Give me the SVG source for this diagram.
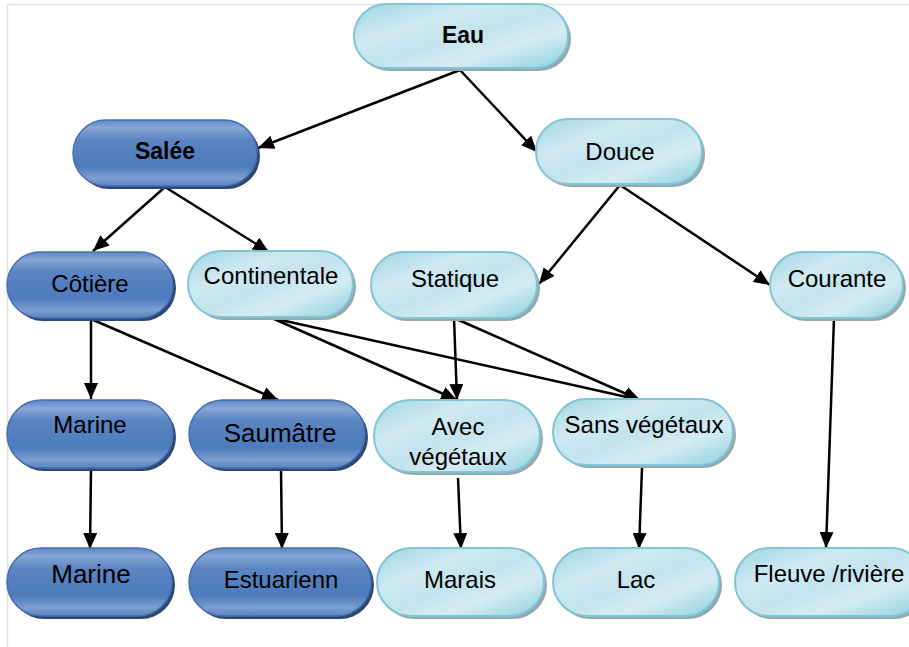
<svg xmlns="http://www.w3.org/2000/svg" width="909" height="647" viewBox="0 0 909 647">
<defs>
  <linearGradient id="gl" x1="0" y1="0" x2="1" y2="1">
    <stop offset="0" stop-color="#9fd6e4"/>
    <stop offset="0.3" stop-color="#cfe9f1"/>
    <stop offset="0.5" stop-color="#c2e3ed"/>
    <stop offset="0.7" stop-color="#d4ecf3"/>
    <stop offset="1" stop-color="#8ccfdf"/>
  </linearGradient>
  <linearGradient id="gd" x1="0" y1="0" x2="0" y2="1">
    <stop offset="0" stop-color="#5f87c4"/>
    <stop offset="0.12" stop-color="#86a6d6"/>
    <stop offset="0.3" stop-color="#5b84c2"/>
    <stop offset="0.7" stop-color="#4d7bbd"/>
    <stop offset="0.88" stop-color="#7c9ed0"/>
    <stop offset="1" stop-color="#5a82c0"/>
  </linearGradient>
  <marker id="ah" viewBox="0 0 16 14" markerWidth="16" markerHeight="14" refX="16" refY="7" orient="auto" markerUnits="userSpaceOnUse">
    <path d="M0,0 L16,7 L0,14 z" fill="#000"/>
  </marker>
</defs>
<style>
  .l { fill: url(#gl); stroke: #7ec5d8; stroke-width: 2; }
  .d { fill: url(#gd); stroke: #4470b0; stroke-width: 1.5; }
  .ls { fill: #97a8ad; }
  .ds { fill: #2c4770; }
  text { font-family: "Liberation Sans", Arial, sans-serif; font-size: 24px; fill: #000; text-anchor: middle; }
  .b { font-weight: bold; font-size: 23px; }
  .big { font-size: 26px; }
  .c line { stroke: #000; stroke-width: 2.5; marker-end: url(#ah); }
</style>
<rect width="909" height="647" fill="#fff"/>
<path d="M7.5,647 V4.5 H909" fill="none" stroke="#e4e4e4" stroke-width="1.5"/>

<g class="c" id="connectors">
  <line x1="460" y1="70" x2="258" y2="148"/>
  <line x1="460" y1="70" x2="537" y2="152"/>
  <line x1="165" y1="187" x2="93" y2="251"/>
  <line x1="165" y1="187" x2="269" y2="252"/>
  <line x1="620" y1="185" x2="539" y2="284"/>
  <line x1="620" y1="185" x2="770" y2="285"/>
  <line x1="91" y1="319" x2="91" y2="399"/>
  <line x1="91" y1="319" x2="278" y2="400"/>
  <line x1="272" y1="318" x2="457" y2="400"/>
  <line x1="272" y1="318" x2="640" y2="400"/>
  <line x1="454" y1="318" x2="457" y2="400"/>
  <line x1="454" y1="318" x2="640" y2="400"/>
  <line x1="834" y1="318" x2="826" y2="548"/>
  <line x1="91" y1="470" x2="90" y2="549"/>
  <line x1="281" y1="469" x2="282" y2="549"/>
  <line x1="458" y1="478" x2="461" y2="549"/>
  <line x1="642" y1="468" x2="639" y2="549"/>
</g>

<g id="eau">
  <rect class="ls" x="357" y="7" width="214" height="64" rx="32"/>
  <rect class="l" x="354" y="4" width="214" height="64" rx="32"/>
  <text class="b" x="463" y="43">Eau</text>
</g>
<g id="salee">
  <rect class="ds" x="76" y="123" width="184" height="66" rx="33"/>
  <rect class="d" x="73" y="120" width="184" height="66" rx="33"/>
  <text class="b" x="165" y="159">Salée</text>
</g>
<g id="douce">
  <rect class="ls" x="539" y="122" width="166" height="65" rx="32"/>
  <rect class="l" x="536" y="119" width="166" height="65" rx="32"/>
  <text x="620" y="160">Douce</text>
</g>
<g id="cotiere">
  <rect class="ds" x="10" y="255" width="166" height="66" rx="33"/>
  <rect class="d" x="7" y="252" width="166" height="66" rx="33"/>
  <text x="90" y="292">Côtière</text>
</g>
<g id="continentale">
  <rect class="ls" x="191" y="254" width="165" height="66" rx="33"/>
  <rect class="l" x="188" y="251" width="165" height="66" rx="33"/>
  <text x="271" y="284">Continentale</text>
</g>
<g id="statique">
  <rect class="ls" x="374" y="255" width="166" height="66" rx="33"/>
  <rect class="l" x="371" y="252" width="166" height="66" rx="33"/>
  <text x="455" y="287">Statique</text>
</g>
<g id="courante">
  <rect class="ls" x="773" y="255" width="133" height="66" rx="33"/>
  <rect class="l" x="770" y="252" width="133" height="66" rx="33"/>
  <text x="837" y="287">Courante</text>
</g>
<g id="marine1">
  <rect class="ds" x="10" y="403" width="166" height="68" rx="34"/>
  <rect class="d" x="7" y="400" width="166" height="68" rx="34"/>
  <text x="90" y="433">Marine</text>
</g>
<g id="saumatre">
  <rect class="ds" x="192" y="403" width="176" height="68" rx="34"/>
  <rect class="d" x="189" y="400" width="176" height="68" rx="34"/>
  <text class="big" x="280" y="442">Saumâtre</text>
</g>
<g id="avec">
  <rect class="ls" x="377" y="403" width="166" height="72" rx="36"/>
  <rect class="l" x="374" y="400" width="166" height="72" rx="36"/>
  <text x="458" y="435">Avec</text>
  <text x="458" y="465">végétaux</text>
</g>
<g id="sans">
  <rect class="ls" x="556" y="402" width="180" height="66" rx="33"/>
  <rect class="l" x="553" y="399" width="180" height="66" rx="33"/>
  <text x="644" y="433">Sans végétaux</text>
</g>
<g id="marine2">
  <rect class="ds" x="10" y="551" width="165" height="68" rx="34"/>
  <rect class="d" x="7" y="548" width="165" height="68" rx="34"/>
  <text class="big" x="91" y="583">Marine</text>
</g>
<g id="estuarienn">
  <rect class="ds" x="192" y="551" width="182" height="68" rx="34"/>
  <rect class="d" x="189" y="548" width="182" height="68" rx="34"/>
  <text x="281" y="588">Estuarienn</text>
</g>
<g id="marais">
  <rect class="ls" x="380" y="551" width="167" height="68" rx="34"/>
  <rect class="l" x="377" y="548" width="167" height="68" rx="34"/>
  <text x="460" y="588">Marais</text>
</g>
<g id="lac">
  <rect class="ls" x="556" y="551" width="166" height="68" rx="34"/>
  <rect class="l" x="553" y="548" width="166" height="68" rx="34"/>
  <text x="636" y="588">Lac</text>
</g>
<g id="fleuve">
  <rect class="ls" x="738" y="551" width="190" height="68" rx="34"/>
  <rect class="l" x="735" y="548" width="190" height="68" rx="34"/>
  <text x="829" y="582">Fleuve /rivière</text>
</g>
</svg>
